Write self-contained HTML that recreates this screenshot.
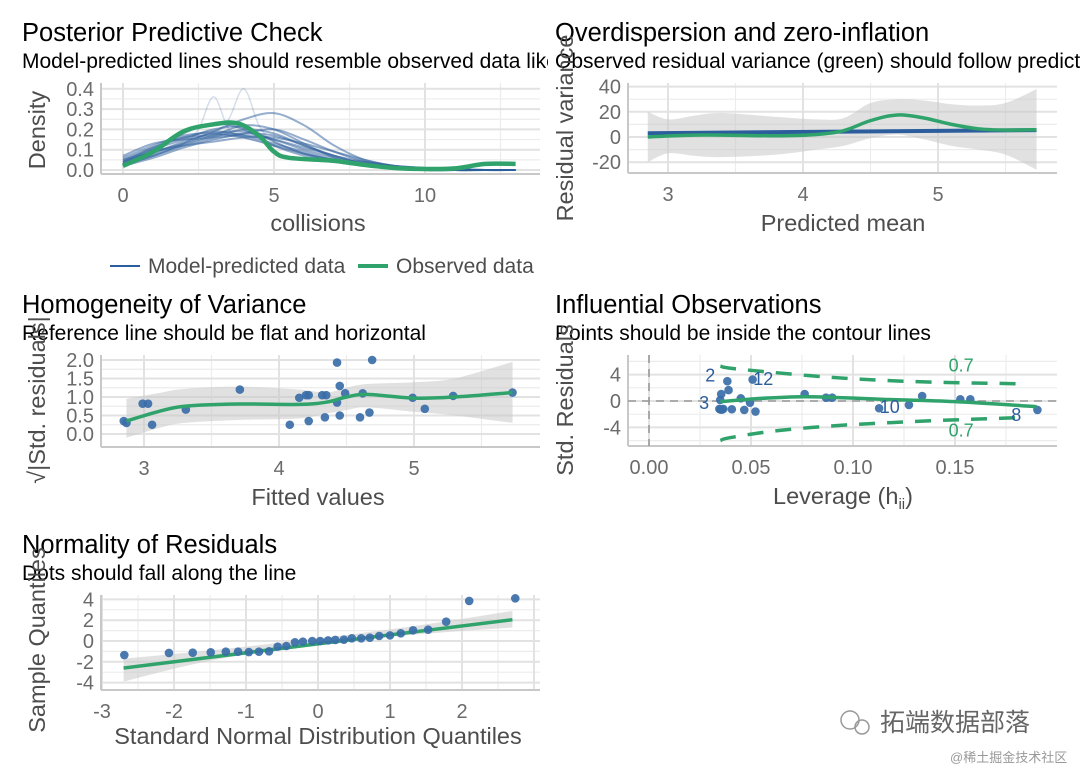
<!DOCTYPE html>
<html><head><meta charset="utf-8"><style>
body{margin:0;background:#fff;width:1080px;height:771px;overflow:hidden}
svg{display:block;font-family:"Liberation Sans","Noto Sans CJK SC",sans-serif}
</style></head><body>
<svg id="s" width="1080" height="771">
<defs><clipPath id="lc"><rect x="0" y="0" width="548" height="771"/></clipPath></defs>
<g>
<text x="22" y="41" font-size="25.5">Posterior Predictive Check</text>
<text x="22" y="68" font-size="21" clip-path="url(#lc)">Model-predicted lines should resemble observed data like</text>
<text x="555" y="41" font-size="25.5">Overdispersion and zero-inflation</text>
<text x="555" y="68" font-size="21">Observed residual variance (green) should follow predicted residual variance (blue)</text>
<text x="22" y="313" font-size="25.5">Homogeneity of Variance</text>
<text x="22" y="340" font-size="21">Reference line should be flat and horizontal</text>
<text x="555" y="313" font-size="25.5">Influential Observations</text>
<text x="555" y="340" font-size="21">Points should be inside the contour lines</text>
<text x="22" y="553" font-size="25.5">Normality of Residuals</text>
<text x="22" y="580" font-size="21">Dots should fall along the line</text>
</g>
<g font-size="23.5" fill="#4d4d4d">
<text x="318" y="231" text-anchor="middle">collisions</text>
<text transform="translate(45,130) rotate(-90)" text-anchor="middle">Density</text>
<text x="843" y="231" text-anchor="middle">Predicted mean</text>
<text transform="translate(573,128) rotate(-90)" text-anchor="middle">Residual variance</text>
<text x="318" y="505" text-anchor="middle">Fitted values</text>
<text transform="translate(45,400) rotate(-90)" text-anchor="middle">√|Std. residuals|</text>
<text x="843" y="504" text-anchor="middle">Leverage (h<tspan font-size="15" dy="5">ii</tspan><tspan dy="-5">)</tspan></text>
<text transform="translate(573,400) rotate(-90)" text-anchor="middle">Std. Residuals</text>
<text x="318" y="744" text-anchor="middle">Standard Normal Distribution Quantiles</text>
<text transform="translate(45,640) rotate(-90)" text-anchor="middle">Sample Quantiles</text>
</g>
<g>
<line x1="110" y1="266" x2="140" y2="266" stroke="#2c5d9c" stroke-width="2"/>
<text x="148" y="273" font-size="21" fill="#4d4d4d">Model-predicted data</text>
<line x1="358" y1="266" x2="388" y2="266" stroke="#2fa36b" stroke-width="4"/>
<text x="396" y="273" font-size="21" fill="#4d4d4d">Observed data</text>
</g>
<g>
<circle cx="850" cy="720" r="9" fill="none" stroke="#999" stroke-width="1.5"/>
<circle cx="862" cy="727" r="7" fill="none" stroke="#999" stroke-width="1.5"/>
<text x="880" y="731" font-size="25" fill="#666">拓端数据部落</text>
<text x="950" y="762" font-size="13" fill="#999">@稀土掘金技术社区</text>
</g>
</svg>
<script>
// ---- Panel 1: posterior predictive check ----
const ppcX = [0,1,2,3,4,5,6,7,8,9,10,11,12,13];
const ppcSims = [
[0.03,0.08,0.14,0.18,0.19,0.15,0.10,0.06,0.03,0.015,0.005,0.002,0,0],
[0.05,0.11,0.16,0.19,0.17,0.13,0.09,0.05,0.03,0.01,0.005,0,0,0],
[0.02,0.07,0.12,0.16,0.20,0.18,0.12,0.07,0.03,0.01,0.005,0,0,0],
[0.06,0.12,0.17,0.18,0.16,0.12,0.08,0.05,0.03,0.02,0.01,0.005,0,0],
[0.04,0.09,0.13,0.17,0.22,0.20,0.13,0.06,0.02,0.01,0,0,0,0],
[0.03,0.10,0.15,0.20,0.21,0.14,0.08,0.05,0.04,0.02,0.01,0,0,0],
[0.02,0.06,0.11,0.15,0.18,0.20,0.15,0.09,0.04,0.01,0,0,0,0],
[0.07,0.13,0.15,0.16,0.17,0.15,0.11,0.07,0.04,0.02,0.01,0.005,0,0],
[0.04,0.09,0.12,0.14,0.16,0.16,0.13,0.09,0.05,0.02,0.01,0,0,0],
[0.05,0.10,0.18,0.23,0.20,0.12,0.07,0.04,0.02,0.01,0,0,0,0],
[0.03,0.07,0.13,0.19,0.25,0.28,0.22,0.12,0.05,0.02,0,0,0,0],
[0.04,0.11,0.16,0.17,0.18,0.17,0.12,0.07,0.03,0.01,0.005,0,0,0]
];
const ppcSpikeX = [0,1,2,2.5,3,3.5,4,4.5,5,6,7,8,9,10,13];
const ppcSpikes = [
[0.03,0.08,0.13,0.2,0.36,0.2,0.16,0.14,0.12,0.08,0.04,0.02,0.01,0,0],
[0.03,0.07,0.12,0.15,0.18,0.25,0.40,0.22,0.14,0.08,0.04,0.02,0.01,0,0]
];
const ppcObsX = [0,1,2,3,3.8,4.5,5,5.5,7,8,9,10,11,12,13];
const ppcObs = [0.02,0.09,0.19,0.225,0.23,0.17,0.09,0.06,0.045,0.025,0.01,0.005,0.008,0.03,0.03];
// ---- Panel 2: overdispersion ----
const odX = [2.85,3.0,3.2,3.4,3.8,4.1,4.3,4.5,4.7,4.9,5.1,5.3,5.5,5.73];
const odObs = [0,0.8,1.5,1.5,1,2,5,13,17.5,15,10,6.5,5.5,5.8];
const odUpper = [20,14,17,19,16,14,15,27,30,29,26,25,27,38];
const odLower = [-20,-13,-15,-16,-14,-10,-7,-1,2,-2,-7,-10,-14,-26];
const odPredX = [2.85,5.73];
const odPred = [3,5.5];
// ---- Panel 3: homogeneity ----
const hvFitted = [2.85,2.87,2.99,3.03,3.06,3.31,3.71,4.08,4.15,4.2,4.22,4.22,4.32,4.35,4.34,4.43,4.45,4.43,4.45,4.49,4.6,4.62,4.67,4.69,4.99,5.08,5.29,5.73];
const hvResid = [0.35,0.3,0.82,0.82,0.25,0.66,1.2,0.25,0.98,1.05,1.05,0.35,1.05,1.05,0.45,1.93,1.3,0.85,0.5,1.1,0.45,1.1,0.58,2.0,0.98,0.68,1.03,1.12];
const hvSmoothX = [2.87,3.1,3.3,3.7,4.15,4.35,4.5,4.65,5.0,5.3,5.73];
const hvSmooth = [0.35,0.6,0.75,0.81,0.80,0.86,1.0,1.07,0.97,1.0,1.12];
const hvUpper = [0.95,1.1,1.22,1.28,1.2,1.12,1.25,1.35,1.4,1.5,1.95];
const hvLower = [-0.1,0.15,0.3,0.38,0.42,0.55,0.65,0.72,0.6,0.5,0.3];
// ---- Panel 4: influential observations ----
const infLev = [0.0354,0.0349,0.0345,0.0352,0.0358,0.0364,0.0384,0.039,0.0406,0.045,0.0467,0.0495,0.0508,0.0522,0.0763,0.0868,0.0898,0.1128,0.1274,0.1339,0.1526,0.1575,0.1904];
const infRes = [1.05,0.15,-1.2,-1.3,-1.3,-1.2,3.0,1.65,-1.25,0.4,-1.35,-0.25,3.25,-1.6,1.05,0.5,0.5,-1.1,-0.6,0.75,0.25,0.25,-1.35];
const infLabelText = ["2","12","3","10","8"];
const infLabelLev = [0.030,0.056,0.027,0.118,0.180];
const infLabelRes = [3.9,3.3,-0.3,-0.9,-2.1];
const infSmoothX = [0.035,0.055,0.076,0.095,0.115,0.15,0.19];
const infSmooth = [-0.1,0.4,0.65,0.5,0.25,-0.1,-0.85];
const contourLev = [0.035,0.039,0.060,0.0885,0.117,0.146,0.1745,0.183];
const contourUp = [5.3,5.0,4.35,3.6,3.1,2.8,2.65,2.6];
const contourLow = [-6.0,-5.6,-4.6,-3.8,-3.3,-2.9,-2.6,-2.5];
// ---- Panel 5: QQ ----
const qqTheo = [-2.69,-2.07,-1.74,-1.49,-1.28,-1.11,-0.96,-0.82,-0.68,-0.56,-0.44,-0.32,-0.21,-0.08,0.03,0.14,0.24,0.36,0.47,0.6,0.72,0.85,1.0,1.15,1.32,1.53,1.78,2.1,2.74];
const qqSample = [-1.35,-1.15,-1.12,-1.09,-1.03,-1.03,-1.06,-1.03,-0.99,-0.54,-0.48,-0.13,-0.06,0,0,0.06,0.1,0.13,0.26,0.26,0.32,0.48,0.54,0.74,1.03,1.09,1.86,3.85,4.1];
const qqLineX = [-2.7,2.7];
const qqLineY = [-2.6,2.05];
const qqBandX = [-2.7,-1.5,0,1.5,2.7];
const qqBandUp = [-1.7,-0.9,0.25,1.6,2.9];
const qqBandLow = [-3.9,-1.9,-0.25,0.7,1.3];

const NS='http://www.w3.org/2000/svg';
const svg=document.getElementById('s');
function mk(tag,attrs,parent){const e=document.createElementNS(NS,tag);for(const k in attrs)e.setAttribute(k,attrs[k]);(parent||svg).appendChild(e);return e;}
function lin(d0,p0,k){return v=>p0+(v-d0)*k;}
function smooth(pts){if(pts.length<3)return 'M'+pts.map(p=>p.join(',')).join('L');let d='M'+pts[0][0]+','+pts[0][1];for(let i=0;i<pts.length-1;i++){const p0=pts[i-1]||pts[i],p1=pts[i],p2=pts[i+1],p3=pts[i+2]||p2;const c1=[p1[0]+(p2[0]-p0[0])/6,p1[1]+(p2[1]-p0[1])/6],c2=[p2[0]-(p3[0]-p1[0])/6,p2[1]-(p3[1]-p1[1])/6];d+='C'+c1+' '+c2+' '+p2;}return d;}
function panel(name,L,R,T,B,xs,ys,xMaj,xMin,yMaj,yMin,xLab,yLab){
  const g=mk('g',{});
  
  
  xMin.forEach(v=>mk('line',{x1:xs(v),x2:xs(v),y1:T,y2:B,stroke:'#ececec','stroke-width':1.2},g));
  yMin.forEach(v=>mk('line',{x1:L,x2:R,y1:ys(v),y2:ys(v),stroke:'#ececec','stroke-width':1.2},g));
  xMaj.forEach(v=>mk('line',{x1:xs(v),x2:xs(v),y1:T,y2:B,stroke:'#e2e2e2','stroke-width':2},g));
  yMaj.forEach(v=>mk('line',{x1:L,x2:R,y1:ys(v),y2:ys(v),stroke:'#e2e2e2','stroke-width':2},g));
  mk('line',{x1:L,x2:L,y1:T,y2:B,stroke:'#c8c8c8','stroke-width':2},g);
  mk('line',{x1:L,x2:R,y1:B,y2:B,stroke:'#c8c8c8','stroke-width':2},g);
  xMaj.forEach((v,i)=>{const t=mk('text',{x:xs(v),y:B+28,'text-anchor':'middle','font-size':20,fill:'#6b6b6b'},g);t.textContent=xLab[i];
    
    });
  yMaj.forEach((v,i)=>{const t=mk('text',{x:L-7,y:ys(v)+7,'text-anchor':'end','font-size':20,fill:'#6b6b6b'},g);t.textContent=yLab[i];
    
    });
  return g;
}
function path(g,xsA,ysA,xs,ys,attrs,nm){const p=mk('path',Object.assign({d:smooth(xsA.map((x,i)=>[xs(x),ys(ysA[i])])),fill:'none'},attrs),g);
  
  return p;}
function band(g,xsA,up,lo,xs,ys,nm){const a=xsA.map((x,i)=>[xs(x),ys(up[i])]),b=xsA.map((x,i)=>[xs(x),ys(lo[i])]).reverse();
  const d=smooth(a)+'L'+smooth(b).slice(1)+'Z';const p=mk('path',{d:d,fill:'#c8c8c8','fill-opacity':0.55},g);
  
  }
function dots(g,xA,yA,xs,ys,nm){xA.forEach((x,i)=>{const c=mk('circle',{cx:xs(x),cy:ys(yA[i]),r:4.3,fill:'#3a6ea8','fill-opacity':0.92},g);
  
  });}
const BLUE='#2c5d9c',GREEN='#2fa36b';

// Panel 1
{const xs=lin(0,123,30.2),ys=lin(0,170,-203);
 const g=panel('ppc',101,540,83,174,xs,ys,[0,5,10],[2.5,7.5,12.5],[0,0.1,0.2,0.3,0.4],[0.05,0.15,0.25,0.35],['0','5','10'],['0.0','0.1','0.2','0.3','0.4']);
 ppcSims.forEach(s=>path(g,ppcX,s,xs,ys,{stroke:BLUE,'stroke-width':2,'stroke-opacity':0.5},'simulated-density-line'));
 ppcSpikes.forEach(s=>path(g,ppcSpikeX,s,xs,ys,{stroke:BLUE,'stroke-width':1.5,'stroke-opacity':0.2},'simulated-density-line'));
 path(g,ppcObsX,ppcObs,xs,ys,{stroke:GREEN,'stroke-width':4.5},'observed-density-line');}
// Panel 2
{const xs=lin(3,668,135),ys=lin(0,137,-1.26);
 const g=panel('overdispersion',628,1057,83,173,xs,ys,[3,4,5],[3.5,4.5,5.5],[-20,0,20,40],[-10,10,30],['3','4','5'],['-20','0','20','40']);
 band(g,odX,odUpper,odLower,xs,ys,'observed-variance-band');
 path(g,odPredX,odPred,xs,ys,{stroke:BLUE,'stroke-width':4},'predicted-variance-line');
 path(g,odX,odObs,xs,ys,{stroke:GREEN,'stroke-width':3.5},'observed-variance-line');}
// Panel 3
{const xs=lin(3,144,135),ys=lin(0,434,-37);
 const g=panel('homogeneity',101,540,355,447,xs,ys,[3,4,5],[3.5,4.5,5.5],[0,0.5,1,1.5,2],[0.25,0.75,1.25,1.75],['3','4','5'],['0.0','0.5','1.0','1.5','2.0']);
 band(g,hvSmoothX,hvUpper,hvLower,xs,ys,'smooth-band');
 dots(g,hvFitted,hvResid,xs,ys,'residual-point');
 path(g,hvSmoothX,hvSmooth,xs,ys,{stroke:GREEN,'stroke-width':3.5},'smooth-line');}
// Panel 4
{const xs=lin(0,649,2040),ys=lin(0,401,-6.6);
 const g=panel('influential',628,1057,355,446,xs,ys,[0,0.05,0.1,0.15],[0.025,0.075,0.125,0.175],[-4,0,4],[-6,-2,2,6],['0.00','0.05','0.10','0.15'],['-4','0','4']);
 mk('line',{x1:628,x2:1057,y1:ys(0),y2:ys(0),stroke:'#999','stroke-width':1.6,'stroke-dasharray':'8 6'},g);
 mk('line',{x1:xs(0),x2:xs(0),y1:355,y2:446,stroke:'#999','stroke-width':1.6,'stroke-dasharray':'8 6'},g);
 path(g,contourLev,contourUp,xs,ys,{stroke:GREEN,'stroke-width':3.5,'stroke-dasharray':'16 12'},'contour-upper');
 path(g,contourLev,contourLow,xs,ys,{stroke:GREEN,'stroke-width':3.5,'stroke-dasharray':'16 12'},'contour-lower');
 [[0.153,5.4],[0.153,-4.5]].forEach(p=>{const t=mk('text',{x:xs(p[0]),y:ys(p[1])+6,'text-anchor':'middle','font-size':18,fill:GREEN},g);t.textContent='0.7';
   
   });
 dots(g,infLev,infRes,xs,ys,'leverage-point');
 path(g,infSmoothX,infSmooth,xs,ys,{stroke:GREEN,'stroke-width':3.5},'smooth-line');
 infLabelText.forEach((s,i)=>{const t=mk('text',{x:xs(infLabelLev[i]),y:ys(infLabelRes[i])+6,'text-anchor':'middle','font-size':18,fill:BLUE},g);t.textContent=s;
   
   });}
// Panel 5
{const xs=lin(0,318,72),ys=lin(0,641,-10.4);
 const g=panel('normality',101,540,595,690,xs,ys,[-3,-2,-1,0,1,2,3],[-2.5,-1.5,-0.5,0.5,1.5,2.5],[-4,-2,0,2,4],[-3,-1,1,3],['-3','-2','-1','0','1','2',''],['-4','-2','0','2','4']);
 band(g,qqBandX,qqBandUp,qqBandLow,xs,ys,'qq-band');
 path(g,qqLineX,qqLineY,xs,ys,{stroke:GREEN,'stroke-width':3.5},'qq-line');
 dots(g,qqTheo,qqSample,xs,ys,'qq-point');}
</script>
</body></html>
